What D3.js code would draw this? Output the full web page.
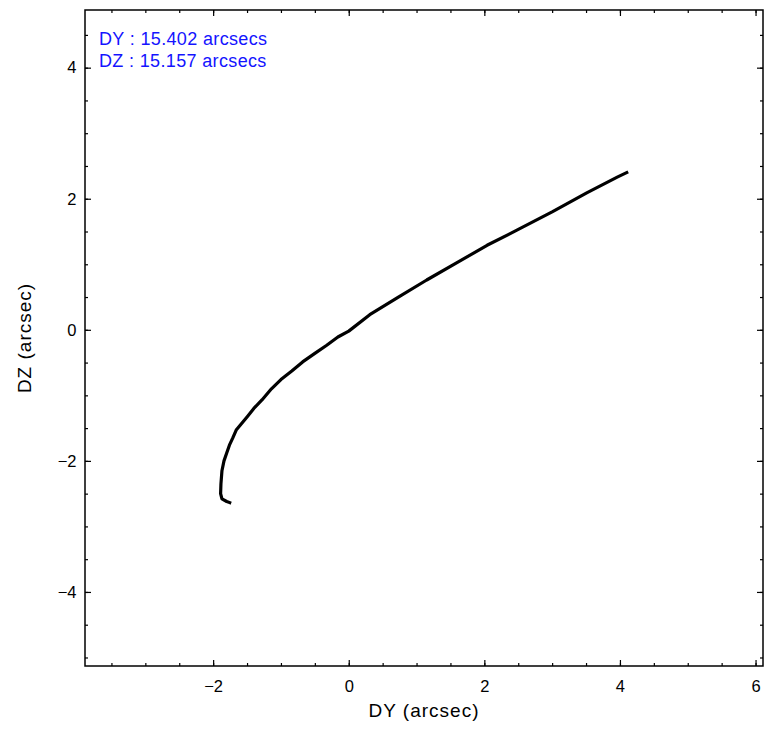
<!DOCTYPE html>
<html>
<head>
<meta charset="utf-8">
<script src="https://cdn.jsdelivr.net/npm/d3@7"></script>
<style>
  html, body { margin: 0; padding: 0; background: #fff; }
  svg { display: block; font-family: "Liberation Sans", Arial, Helvetica, sans-serif; }
</style>
</head>
<body>
<svg id="chart" width="764" height="729"></svg>
<script>
// pointing track (arcsec)
const dy = [-1.756, -1.80, -1.87, -1.89, -1.885, -1.87, -1.84, -1.80, -1.76, -1.71, -1.66, -1.58, -1.50,
  -1.40, -1.28, -1.14, -1.00, -0.84, -0.68, -0.50, -0.33, -0.16, 0.00, 0.31, 0.72, 1.15, 1.59, 2.04,
  2.48, 3.00, 3.51, 3.96, 4.10];
const dz = [-2.637, -2.62, -2.58, -2.50, -2.35, -2.15, -2.00, -1.88, -1.76, -1.65, -1.53, -1.43, -1.33,
  -1.20, -1.07, -0.90, -0.76, -0.63, -0.49, -0.36, -0.24, -0.11, -0.02, 0.23, 0.49, 0.76, 1.02, 1.29,
  1.52, 1.80, 2.09, 2.33, 2.40];
const xMajor = [-2, 0, 2, 4, 6];
const yMajor = [-4, -2, 0, 2, 4];
const xMinor = d3.range(-3.5, 6.01, 0.5);
const yMinor = d3.range(-5, 4.51, 0.5);
const notes = ['DY : 15.402 arcsecs', 'DZ : 15.157 arcsecs'];

const margin = { left: 85, top: 10, right: 1, bottom: 63 };
const width = 764 - margin.left - margin.right;
const height = 729 - margin.top - margin.bottom;

const svg = d3.select('#chart');
const g = svg.append('g').attr('transform', `translate(${margin.left},${margin.top})`);

const x = d3.scaleLinear().domain([-3.89, 6.11]).range([0, width]);
const y = d3.scaleLinear().domain([-5.13, 4.88]).range([height, 0]);

const fmt = d => d3.format('d')(d).replace('-', '\u2212');

function styleAxis(sel) {
  sel.select('.domain').remove();
  sel.selectAll('line').attr('stroke', '#000').attr('stroke-width', 1.2);
  sel.selectAll('text').attr('fill', '#000').attr('font-size', 16.5);
}

// major ticks + labels
g.append('g').attr('transform', `translate(0,${height})`)
  .call(d3.axisBottom(x).tickValues(xMajor).tickSize(-6).tickPadding(14.5).tickFormat(fmt))
  .call(styleAxis);
g.append('g')
  .call(d3.axisLeft(y).tickValues(yMajor).tickSize(-6).tickPadding(8.5).tickFormat(fmt))
  .call(styleAxis);
g.append('g').call(d3.axisTop(x).tickValues(xMajor).tickSize(-6).tickFormat('')).call(styleAxis);
g.append('g').attr('transform', `translate(${width},0)`)
  .call(d3.axisRight(y).tickValues(yMajor).tickSize(-6).tickFormat('')).call(styleAxis);

// minor ticks
g.append('g').attr('transform', `translate(0,${height})`)
  .call(d3.axisBottom(x).tickValues(xMinor).tickSize(-3).tickFormat('')).call(styleAxis);
g.append('g').call(d3.axisTop(x).tickValues(xMinor).tickSize(-3).tickFormat('')).call(styleAxis);
g.append('g').call(d3.axisLeft(y).tickValues(yMinor).tickSize(-3).tickFormat('')).call(styleAxis);
g.append('g').attr('transform', `translate(${width},0)`)
  .call(d3.axisRight(y).tickValues(yMinor).tickSize(-3).tickFormat('')).call(styleAxis);

// frame
g.append('rect')
  .attr('x', 0).attr('y', 0).attr('width', width).attr('height', height)
  .attr('fill', 'none').attr('stroke', '#000').attr('stroke-width', 1.5);

// track
const line = d3.line().x((d, i) => x(dy[i])).y((d, i) => y(dz[i]));
g.append('path')
  .attr('d', line(dy))
  .attr('fill', 'none')
  .attr('stroke', '#000')
  .attr('stroke-width', 3.2)
  .attr('stroke-linejoin', 'round')
  .attr('stroke-linecap', 'square');

// notes
g.selectAll('text.note')
  .data(notes)
  .join('text')
  .attr('class', 'note')
  .attr('x', 14)
  .attr('y', (d, i) => 35 + i * 21.7)
  .attr('fill', '#1414ff')
  .attr('font-size', 18)
  .attr('letter-spacing', 0.35)
  .text(d => d);

// axis titles
svg.append('text')
  .attr('x', margin.left + width / 2)
  .attr('y', 717)
  .attr('text-anchor', 'middle')
  .attr('font-size', 19)
  .attr('letter-spacing', 1)
  .text('DY (arcsec)');
svg.append('text')
  .attr('transform', `translate(31,${margin.top + height / 2}) rotate(-90)`)
  .attr('text-anchor', 'middle')
  .attr('font-size', 19)
  .attr('letter-spacing', 1)
  .text('DZ (arcsec)');
</script>
</body>
</html>
